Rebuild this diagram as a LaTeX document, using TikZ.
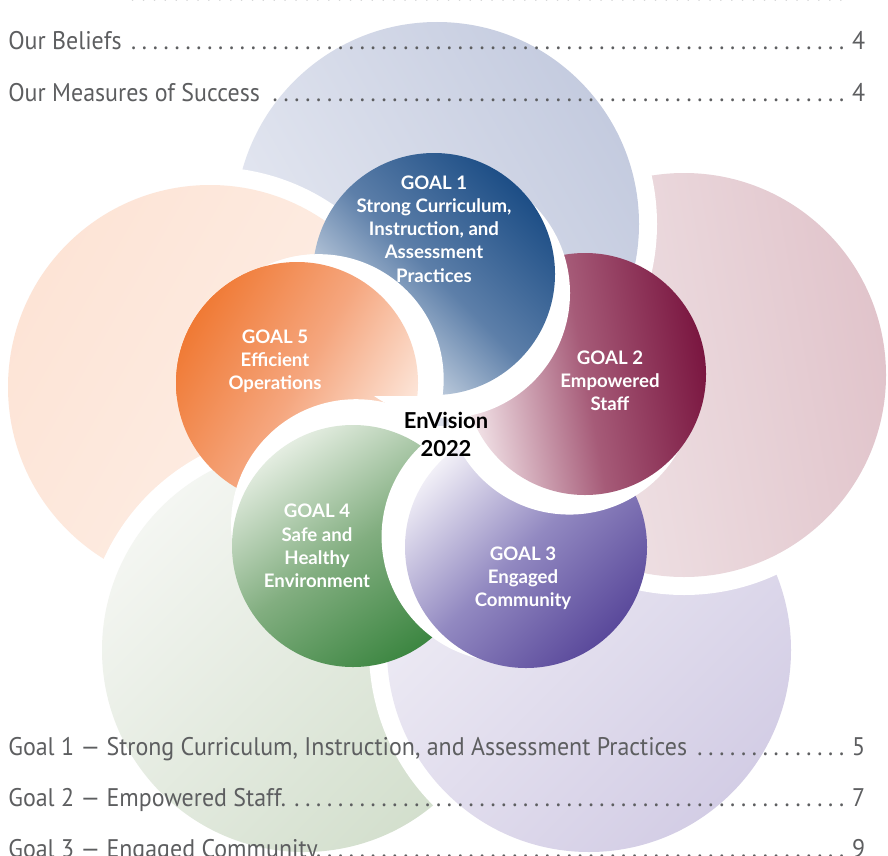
\documentclass[tikz,border=0pt]{standalone}
\usepackage{fontspec}
\setmainfont{Lato}
\newfontfamily\tocfont[FakeStretch=0.94]{PT Sans}
\usetikzlibrary{positioning, calc}

% colours of the five goals
\definecolor{tocgrey}{HTML}{5D5E60}
\definecolor{blueDark}{HTML}{1D4E86}
\definecolor{blueMid}{HTML}{5D7FA9}
\definecolor{bluePale}{HTML}{E8EDF3}
\definecolor{wineDark}{HTML}{7A1640}
\definecolor{wineMid}{HTML}{A65B78}
\definecolor{winePale}{HTML}{F3E5E9}
\definecolor{violetDark}{HTML}{5A499B}
\definecolor{violetMid}{HTML}{9289C1}
\definecolor{violetPale}{HTML}{F1EFF7}
\definecolor{greenDark}{HTML}{3C8641}
\definecolor{greenMid}{HTML}{82AE80}
\definecolor{greenPale}{HTML}{E4EDE1}
\definecolor{orangeDark}{HTML}{F07A35}
\definecolor{orangeMid}{HTML}{F5A67E}
\definecolor{orangePale}{HTML}{FDEBE1}
% pale background circles
\definecolor{bgBlueA}{HTML}{C4CBDF}
\definecolor{bgBlueB}{HTML}{E6E9F2}
\definecolor{bgWineA}{HTML}{E1C4CB}
\definecolor{bgWineB}{HTML}{F3EAEC}
\definecolor{bgVioletA}{HTML}{D3CDE5}
\definecolor{bgVioletB}{HTML}{F0EEF6}
\definecolor{bgGreenA}{HTML}{D3DFCD}
\definecolor{bgGreenB}{HTML}{F4F6F2}
\definecolor{bgOrangeA}{HTML}{FDE4D6}
\definecolor{bgOrangeB}{HTML}{FDF0E8}

\newcommand{\tocrow}[2]{\makebox[17.14cm][l]{#1\leaders\hbox to 6.2pt{\hss.\hss}\hfill#2}}

\begin{document}
\begin{tikzpicture}[x=0.02cm, y=-0.02cm,
    bigTop/.style={top color=bgBlueA, bottom color=bgBlueB, shading angle=-60},
    bigRight/.style={top color=bgWineA, bottom color=bgWineB, shading angle=-80},
    bigLowR/.style={top color=bgVioletA, bottom color=bgVioletB, shading angle=-135},
    bigLowL/.style={top color=bgGreenA, bottom color=bgGreenB, shading angle=-135},
    bigLeft/.style={top color=bgOrangeA, bottom color=bgOrangeB, shading angle=60},
    goalOne/.style={top color=blueDark, bottom color=bluePale, middle color=blueMid, shading angle=-45},
    goalTwo/.style={top color=wineDark, bottom color=winePale, middle color=wineMid, shading angle=-80},
    goalThree/.style={top color=violetDark, bottom color=violetPale, middle color=violetMid, shading angle=-135},
    goalFour/.style={top color=greenDark, bottom color=greenPale, middle color=greenMid, shading angle=-145},
    goalFive/.style={top color=orangeDark, bottom color=orangePale, middle color=orangeMid, shading angle=60},
    label/.style={text=white, align=center, inner sep=0, font=\bfseries\fontsize{10.6}{13.2}\selectfont},
    toc/.style={anchor=base west, inner sep=0, text=tocgrey, font=\tocfont\fontsize{14.5}{16}\selectfont}]
    \useasboundingbox (0,0) rectangle (888,855);
    % centres
    \coordinate (bigT) at (437,224);
    \coordinate (bigR) at (684,375);
    \coordinate (bigBR) at (589,650);
    \coordinate (bigBL) at (304,650);
    \coordinate (bigL) at (210,387);
    \coordinate (g1) at (434,274);
    \coordinate (g2) at (585,374);
    \coordinate (g3) at (526,547);
    \coordinate (g4) at (353,546);
    \coordinate (g5) at (297,383);

    % Pale circles, each one over its clockwise neighbour
    \fill[white] (bigL) circle (220);
    \shade[bigLeft] (bigL) circle (202);
    \fill[white] (bigBL) circle (220);
    \shade[bigLowL] (bigBL) circle (202);
    \fill[white] (bigBR) circle (220);
    \shade[bigLowR] (bigBR) circle (202);
    \fill[white] (bigR) circle (220);
    \shade[bigRight] (bigR) circle (202);
    \fill[white] (bigT) circle (220);
    \shade[bigTop] (bigT) circle (202);
    \begin{scope} % left one again, over the top one
      \clip (0,0) rectangle (888,420);
      \fill[white] (bigL) circle (220);
      \shade[bigLeft] (bigL) circle (202);
    \end{scope}

    % Goal circles with a white crescent on the inner side
    \fill[white] ($(g5)+(-10:22)$) circle (125);
    \shade[goalFive] (g5) circle (121);
    \fill[white] ($(g4)+(-82:22)$) circle (125);
    \shade[goalFour] (g4) circle (121);
    \fill[white] ($(g3)+(-152:22)$) circle (125);
    \shade[goalThree] (g3) circle (121);
    \fill[white] ($(g2)+(135:22)$) circle (125);
    \shade[goalTwo] (g2) circle (121);
    \fill[white] ($(g1)+(60:22)$) circle (125);
    \shade[goalOne] (g1) circle (121);
    \begin{scope} % goal 5 again, over goal 1
      \clip (0,0) rectangle (888,395);
      \fill[white] ($(g5)+(-10:22)$) circle (125);
      \shade[goalFive] (g5) circle (121);
    \end{scope}

    % labels
    \node[label] (lbl1) at (434,229) {GOAL 1\\Strong Curriculum,\\Instruction, and\\Assessment\\Practices};
    \node[label] (lbl2) at (610,381) {GOAL 2\\Empowered\\Staff};
    \node[label] (lbl3) at (523,578) {GOAL 3\\Engaged\\Community};
    \node[label] (lbl4) at (317,546) {GOAL 4\\Safe and\\Healthy\\Environment};
    \node[label] (lbl5) at (275,361) {GOAL 5\\Efficient\\Operations};
    \node[align=center, inner sep=0, font=\bfseries\fontsize{12.5}{15.9}\selectfont] (envision) at (446,434) {EnVision\\2022};

    % contents lines
    \node[toc] (tocTop) at (127,1) {\makebox[14.56cm][l]{\leaders\hbox to 6.2pt{\hss.\hss}\hfill}};
    \node[toc] (tocBeliefs) at (8,50) {\tocrow{Our Beliefs}{4}};
    \node[toc] (tocMeasures) at (8,101) {\tocrow{Our Measures of Success}{4}};
    \node[toc] (tocGoalOne) at (8,755) {\tocrow{Goal 1 — Strong Curriculum, Instruction, and Assessment Practices}{5}};
    \node[toc] (tocGoalTwo) at (8,806) {\tocrow{Goal 2 — Empowered Staff.}{7}};
    \node[toc] (tocGoalThree) at (8,857) {\tocrow{Goal 3 — Engaged Community.}{9}};
\end{tikzpicture}
\end{document}
